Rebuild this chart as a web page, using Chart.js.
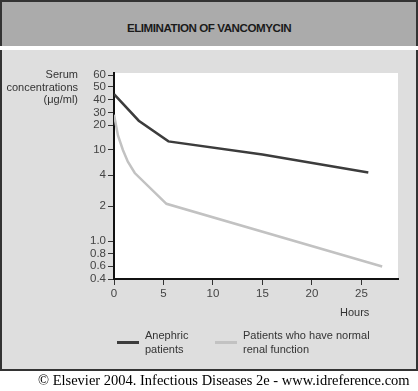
<!DOCTYPE html>
<html lang="en">
<head>
<meta charset="UTF-8">
<title>Elimination of Vancomycin</title>
<script src="https://cdn.jsdelivr.net/npm/chart.js"></script>
<style>
    body {
        margin: 0;
        width: 418px;
        height: 391px;
        background: #fff;
        position: relative;
        overflow: hidden;
        font-family: 'Liberation Sans', Arial, sans-serif;
    }
    .band {
        position: absolute;
        left: 0; top: 0;
        width: 414px; height: 44px;
        background: #ababab;
        border: 2px solid #333;
        border-bottom: none;
    }
    .band h1 {
        margin: 0;
        font-size: 11.6px;
        font-weight: bold;
        letter-spacing: -0.45px;
        color: #1a1a1a;
        text-align: center;
        line-height: 12px;
        padding-top: 20px;
    }
    .panel {
        position: absolute;
        left: 0; top: 50px;
        width: 414px; height: 319px;
        background: #dedede;
        border: 2px solid #333;
        border-top: none;
    }
    #chart {
        position: absolute;
        left: 0; top: 50px;
    }
    .ytitle {
        position: absolute;
        right: 340px; top: 68px;
        text-align: right;
        font-size: 11px;
        line-height: 12.7px;
        color: #333;
    }
    .xtitle {
        position: absolute;
        left: 340px; top: 306px;
        font-size: 11px;
        color: #333;
    }
    .legend-item {
        position: absolute;
        top: 329px;
        font-size: 11px;
        line-height: 13.5px;
        color: #333;
    }
    .swatch {
        position: absolute;
        top: 341px;
        width: 22px;
        height: 3px;
    }
    .copyright {
        position: absolute;
        left: 38px; top: 372px;
        white-space: nowrap;
        font-family: 'Liberation Serif', 'Times New Roman', serif;
        font-size: 14.5px;
        color: #000;
    }
</style>
</head>
<body>
    <div class="band"><h1>ELIMINATION OF VANCOMYCIN</h1></div>
    <div class="panel"></div>
    <canvas id="chart" width="418" height="260"></canvas>
    <div class="ytitle">Serum<br>concentrations<br>(μg/ml)</div>
    <div class="xtitle">Hours</div>
    <div class="swatch" id="sw0" style="left:117px"></div>
    <div class="legend-item" id="lg0" style="left:145px"></div>
    <div class="swatch" id="sw1" style="left:215px"></div>
    <div class="legend-item" id="lg1" style="left:243px"></div>
    <div class="copyright">© Elsevier 2004. Infectious Diseases 2e - www.idreference.com</div>
<script>
    // series (hours, μg/ml)
    const anephricHours = [0, 2.5, 5.5, 15, 25.7];
    const anephricConc = [44, 23, 12.7, 8.5, 4.4];
    const normalHours = [0, 0.4, 0.9, 1.4, 2.1, 5.3, 27.1];
    const normalConc = [28, 15, 10, 6.5, 4.3, 2.1, 0.59];

    const seriesLabels = [['Anephric', 'patients'], ['Patients who have normal', 'renal function']];
    const seriesColors = ['#3c3c3c', '#c2c2c2'];

    const xTicks = [0, 5, 10, 15, 20, 25];
    const yTickValues = [0.4, 0.6, 0.8, 1, 2, 4, 10, 20, 30, 40, 50, 60];
    const yTickLabels = ['0.4', '0.6', '0.8', '1.0', '2', '4', '10', '20', '30', '40', '50', '60'];

    // the original axis is hand-spaced, so each tick sits at its own height
    const yTickUnits = [0, 13, 25.5, 38, 73, 104, 129, 154, 166.5, 179.5, 192, 204];
    const yUnitTop = 206;

    class SteppedLogScale extends Chart.LinearScale {
        static id = 'steppedLog';
        static defaults = {};

        determineDataLimits() {
            this.min = yTickValues[0];
            this.max = yTickValues[yTickValues.length - 1];
        }

        buildTicks() {
            return yTickValues.map(v => ({ value: v }));
        }

        toUnits(v) {
            const n = yTickValues.length;
            let i = 0;
            while (i < n - 2 && v > yTickValues[i + 1]) i++;
            const a = Math.log(yTickValues[i]), b = Math.log(yTickValues[i + 1]);
            const f = (Math.log(v) - a) / (b - a);
            return yTickUnits[i] + f * (yTickUnits[i + 1] - yTickUnits[i]);
        }

        getPixelForValue(value) {
            if (value === null || isNaN(value)) return NaN;
            return this.getPixelForDecimal(this.toUnits(value) / yUnitTop);
        }

        getValueForPixel(pixel) {
            const u = this.getDecimalForPixel(pixel) * yUnitTop;
            let i = 0;
            while (i < yTickUnits.length - 2 && u > yTickUnits[i + 1]) i++;
            const f = (u - yTickUnits[i]) / (yTickUnits[i + 1] - yTickUnits[i]);
            const a = Math.log(yTickValues[i]), b = Math.log(yTickValues[i + 1]);
            return Math.exp(a + f * (b - a));
        }
    }
    Chart.register(SteppedLogScale);

    const plotBackground = {
        id: 'plotBackground',
        beforeDraw(chart) {
            const { ctx, chartArea } = chart;
            ctx.save();
            ctx.fillStyle = '#fff';
            ctx.fillRect(chartArea.left, chartArea.top, chartArea.width, chartArea.height);
            ctx.restore();
        }
    };

    // legend as real text next to the swatches
    seriesLabels.forEach((lines, i) => {
        document.getElementById('sw' + i).style.background = seriesColors[i];
        document.getElementById('lg' + i).innerHTML = lines.join('<br>');
    });

    const tickFont = { family: "'Liberation Sans', Arial, sans-serif", size: 11.5 };

    new Chart(document.getElementById('chart'), {
        type: 'line',
        data: {
            datasets: [
                {
                    label: seriesLabels[0].join(' '),
                    data: anephricHours.map((h, i) => ({ x: h, y: anephricConc[i] })),
                    borderColor: seriesColors[0],
                    borderWidth: 2.5,
                    pointRadius: 0,
                    tension: 0
                },
                {
                    label: seriesLabels[1].join(' '),
                    data: normalHours.map((h, i) => ({ x: h, y: normalConc[i] })),
                    borderColor: seriesColors[1],
                    borderWidth: 2.5,
                    pointRadius: 0,
                    tension: 0
                }
            ]
        },
        options: {
            responsive: false,
            animation: false,
            layout: { padding: { top: 23, right: 20, bottom: 0, left: 0 } },
            plugins: {
                legend: { display: false },
                tooltip: { enabled: false }
            },
            scales: {
                x: {
                    type: 'linear',
                    min: 0,
                    max: 28.7,
                    afterBuildTicks: scale => { scale.ticks = xTicks.map(v => ({ value: v })); },
                    afterFit: scale => { scale.height = 31; },
                    grid: { drawOnChartArea: false, tickLength: 6, tickColor: '#333' },
                    border: { color: '#111', width: 2 },
                    ticks: { color: '#444', font: tickFont, padding: 2, maxRotation: 0 }
                },
                y: {
                    type: 'steppedLog',
                    afterFit: scale => { scale.width = 114; },
                    grid: { drawOnChartArea: false, tickLength: 6, tickColor: '#333' },
                    border: { color: '#111', width: 2 },
                    ticks: {
                        color: '#444',
                        font: tickFont,
                        padding: 2,
                        autoSkip: false,
                        callback: (v, i) => yTickLabels[i]
                    }
                }
            }
        },
        plugins: [plotBackground]
    });
</script>
</body>
</html>
